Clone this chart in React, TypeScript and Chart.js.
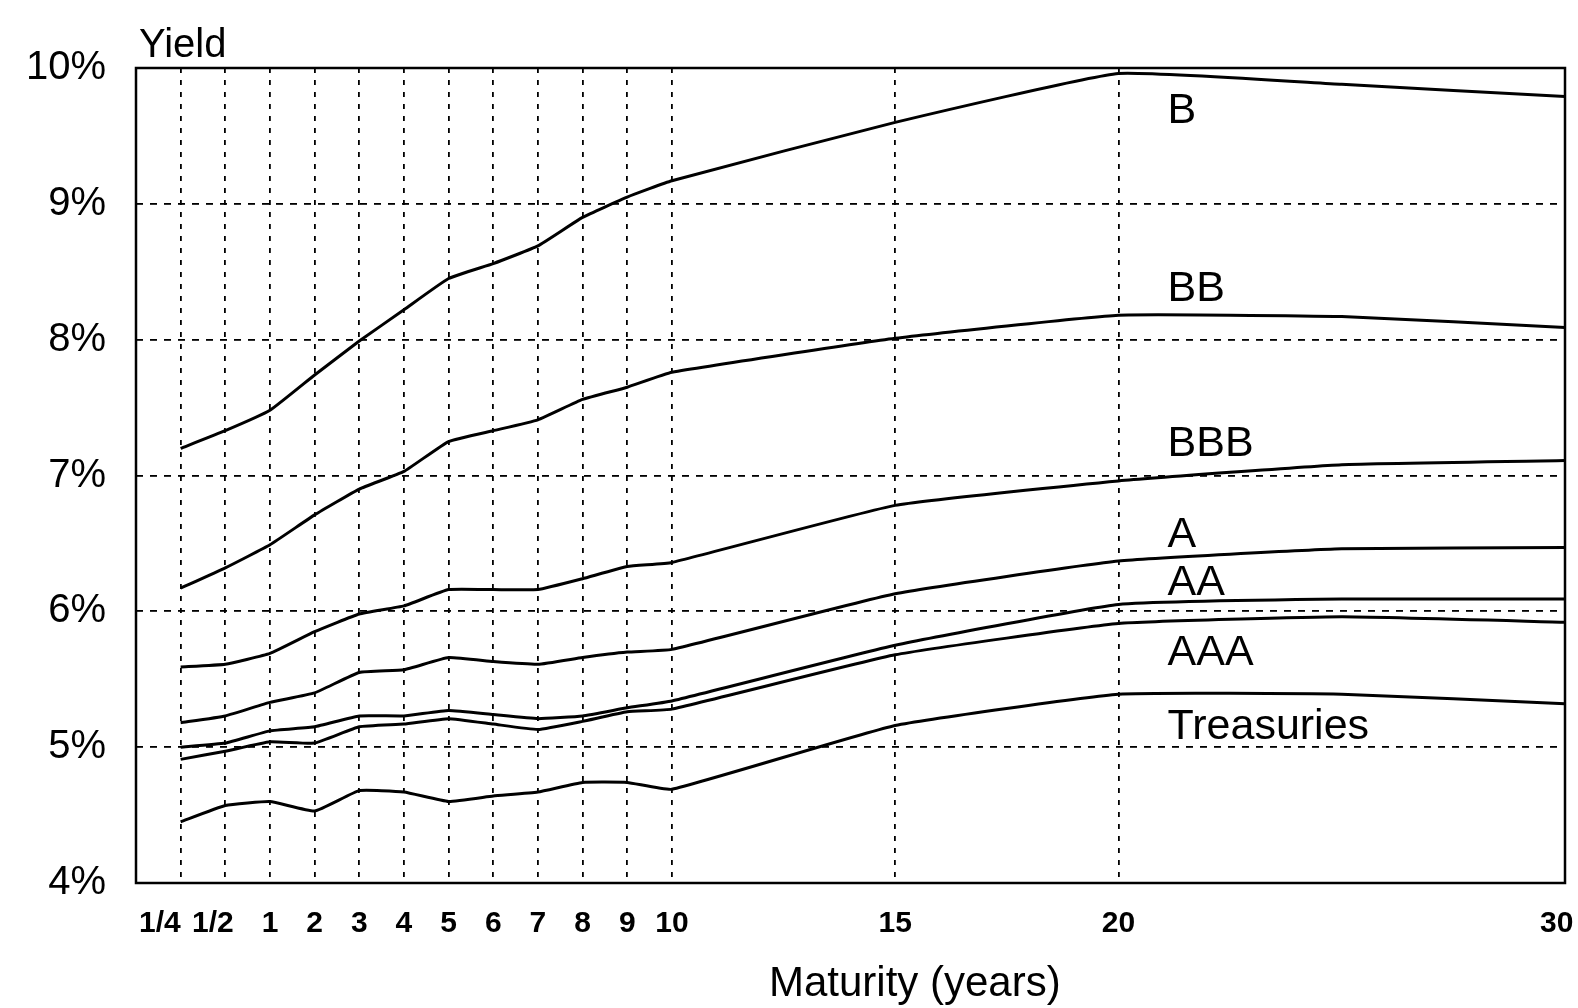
import React, { useEffect, useRef } from "react";
import { Chart, registerables } from "chart.js";

Chart.register(...registerables);

// Maturities (years) at which yields are read
const maturities = [0.25, 0.5, 1, 2, 3, 4, 5, 6, 7, 8, 9, 10, 15, 20, 25, 30];

// Yield curves (%) by rating
const yieldB = [7.2, 7.33, 7.48, 7.74, 7.99, 8.22, 8.45, 8.56, 8.69, 8.9, 9.05, 9.17, 9.6, 9.96, 9.88, 9.79];
const yieldBB = [6.17, 6.32, 6.49, 6.71, 6.9, 7.03, 7.25, 7.33, 7.41, 7.56, 7.65, 7.76, 8.01, 8.18, 8.17, 8.09];
const yieldBBB = [5.59, 5.61, 5.69, 5.85, 5.98, 6.04, 6.16, 6.16, 6.16, 6.24, 6.33, 6.36, 6.78, 6.96, 7.08, 7.11];
const yieldA = [5.18, 5.23, 5.33, 5.4, 5.55, 5.57, 5.66, 5.63, 5.61, 5.66, 5.7, 5.72, 6.13, 6.37, 6.46, 6.47];
const yieldAA = [5.0, 5.03, 5.12, 5.15, 5.23, 5.23, 5.27, 5.24, 5.21, 5.23, 5.29, 5.34, 5.75, 6.05, 6.09, 6.09];
const yieldAAA = [4.91, 4.97, 5.04, 5.03, 5.15, 5.17, 5.21, 5.17, 5.13, 5.19, 5.26, 5.28, 5.68, 5.91, 5.96, 5.92];
const yieldTreasuries = [4.45, 4.57, 4.6, 4.53, 4.68, 4.67, 4.6, 4.64, 4.67, 4.74, 4.74, 4.69, 5.16, 5.39, 5.39, 5.32];

const seriesNames = ["B", "BB", "BBB", "A", "AA", "AAA", "Treasuries"];
const seriesValues = [yieldB, yieldBB, yieldBBB, yieldA, yieldAA, yieldAAA, yieldTreasuries];

// Curve labels: placed at this maturity, at these yields
const labelMaturity = 21.1;
const labelYields = [9.68, 8.37, 7.23, 6.56, 6.21, 5.69, 5.15];

// Axis ticks
const xTickMaturities = [0.25, 0.5, 1, 2, 3, 4, 5, 6, 7, 8, 9, 10, 15, 20, 30];
const xTickLabels = ["1/4", "1/2", "1", "2", "3", "4", "5", "6", "7", "8", "9", "10", "15", "20", "30"];
const yTickValues = [4, 5, 6, 7, 8, 9, 10];

const FONT = '"Liberation Sans", Arial, Helvetica, sans-serif';

// Non-linear maturity axis: 1/4, 1/2 and 1..10 equally spaced, then linear in years
function toPos(m: number): number {
  if (m <= 0.25) return 0;
  if (m < 1) return 1;
  return m + 1;
}

// trailing spaces nudge the crowded fractional labels left, as in the original
function displayLabel(label: string): string {
  if (label === "1/4") return label + "     ";
  if (label === "1/2") return label + "   ";
  if (label === "30") return label + "  ";
  return label;
}

const annotationPlugin = {
  id: "annotationPlugin",
  afterDraw(chart: any) {
    const { ctx, chartArea: a, scales } = chart;
    const x = scales.x;
    const y = scales.y;
    ctx.save();
    // frame
    ctx.setLineDash([]);
    ctx.strokeStyle = "#000";
    ctx.lineWidth = 2.5;
    ctx.strokeRect(a.left, a.top, a.right - a.left, a.bottom - a.top);
    ctx.fillStyle = "#000";
    // curve labels
    ctx.font = `43px ${FONT}`;
    ctx.textAlign = "left";
    ctx.textBaseline = "middle";
    seriesNames.forEach((name, i) => {
      ctx.fillText(name, x.getPixelForValue(toPos(labelMaturity)), y.getPixelForValue(labelYields[i]));
    });
    // y-axis title
    ctx.font = `40px ${FONT}`;
    ctx.fillText("Yield", a.left + 3, a.top - 22);
    // x-axis title
    ctx.font = `42px ${FONT}`;
    ctx.textAlign = "center";
    ctx.fillText("Maturity (years)", a.left + (a.right - a.left) * 0.545, 984);
    ctx.restore();
  },
};

export default function App() {
  const canvasRef = useRef<HTMLCanvasElement | null>(null);

  useEffect(() => {
    document.body.style.margin = "0";
    const canvas = canvasRef.current;
    if (!canvas) return;

    const datasets = seriesNames.map((name, i) => ({
      label: name,
      data: maturities.map((m, j) => ({ x: toPos(m), y: seriesValues[i][j] })),
      borderColor: "#000",
      backgroundColor: "#000",
      borderWidth: 3,
      pointRadius: 0,
      tension: 0.12,
      fill: false,
    }));

    const chart = new Chart(canvas, {
      type: "line",
      data: { datasets },
      options: {
        animation: false,
        responsive: false,
        devicePixelRatio: 1,
        layout: { padding: { top: 68, right: 13, left: 0, bottom: 0 } },
        plugins: {
          legend: { display: false },
          tooltip: { enabled: false },
        },
        scales: {
          x: {
            type: "linear",
            min: -1,
            max: 31,
            afterBuildTicks: (scale: any) => {
              scale.ticks = xTickMaturities.map((m) => ({ value: toPos(m) }));
            },
            afterFit: (scale: any) => {
              scale.height = 125;
              scale.paddingLeft = 0;
              scale.paddingRight = 0;
            },
            ticks: {
              autoSkip: false,
              maxRotation: 0,
              minRotation: 0,
              padding: 23,
              color: "#000",
              font: { family: FONT, size: 30, weight: "bold" },
              callback: (_v: any, index: number) => displayLabel(xTickLabels[index]),
            },
            grid: { color: "#000", lineWidth: 1.8, drawTicks: false, tickLength: 0 },
            border: { display: false, dash: [5, 7] },
          },
          y: {
            type: "linear",
            min: 4,
            max: 10,
            afterBuildTicks: (scale: any) => {
              scale.ticks = yTickValues.map((v) => ({ value: v }));
            },
            afterFit: (scale: any) => {
              scale.width = 136;
              scale.paddingTop = 0;
              scale.paddingBottom = 0;
            },
            ticks: {
              padding: 30,
              color: "#000",
              font: { family: FONT, size: 40 },
              callback: (v: any) => `${v}%`,
            },
            grid: { color: "#000", lineWidth: 1.8, drawTicks: false, tickLength: 0 },
            border: { display: false, dash: [7, 7] },
          },
        },
      },
      plugins: [annotationPlugin],
    });

    return () => chart.destroy();
  }, []);

  return (
    <div style={{ position: "absolute", left: 0, top: 0, width: 1578, height: 1008, background: "#fff" }}>
      <canvas ref={canvasRef} width={1578} height={1008} style={{ display: "block", width: 1578, height: 1008 }} />
    </div>
  );
}
